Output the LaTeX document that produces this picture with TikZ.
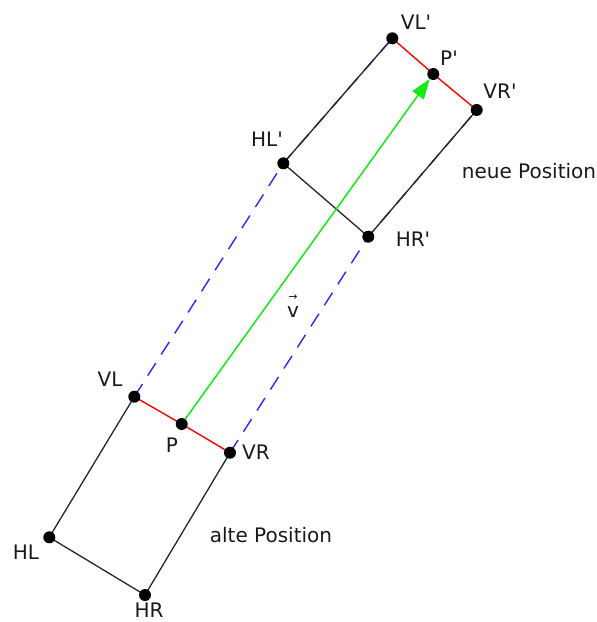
\documentclass[tikz,border=0pt]{standalone}
\usepackage{fontspec}
\setmainfont{DejaVu Sans}[Ligatures=TeXOff]
\usetikzlibrary{arrows.meta}
\begin{document}
\begin{tikzpicture}[x=1pt,y=-1pt,
  edge/.style={draw=black!85,line width=1.3pt},
  front/.style={draw=red,line width=1.4pt},
  path/.style={draw={rgb,255:red,40;green,40;blue,255},line width=1.4pt,dash pattern=on 15pt off 10pt},
  dot/.style={circle,fill=black,inner sep=0pt,minimum size=12pt},
  lab/.style={font=\fontsize{20}{24}\selectfont,text=black!90,inner sep=0pt},
  vec/.style={draw={rgb,255:red,20;green,235;blue,20},line width=1.5pt,-{Triangle[length=20pt,width=14pt]}}]
\useasboundingbox (0,0) rectangle (597,622);
% old position
\coordinate (VL) at (134.3,396.7);
\coordinate (P) at (181.7,424);
\coordinate (VR) at (230,452.7);
\coordinate (HL) at (49.3,537.3);
\coordinate (HR) at (145,595);
% new position
\coordinate (VLn) at (392.3,38.3);
\coordinate (Pn) at (433.3,74);
\coordinate (VRn) at (476.7,110);
\coordinate (HLn) at (283.3,163.3);
\coordinate (HRn) at (368.3,236.7);
% dashed paths
\draw[path] (VL) -- (HLn) -- (VLn);
\draw[path] (VR) -- (HRn) -- (VRn);
% rectangles
\draw[edge] (VL) -- (HL) -- (HR) -- (VR);
\draw[front] (VL) -- (P) -- (VR);
\draw[edge] (VLn) -- (HLn) -- (HRn) -- (VRn);
\draw[front] (VLn) -- (Pn) -- (VRn);
% dots
\foreach \c in {VL,P,VR,HL,HR,VLn,Pn,VRn,HLn,HRn} \node[dot] (d\c) at (\c) {};
% vector
\draw[vec] (dP) -- (dPn);
% labels
\node[lab] (lVL) at (110,379) {VL};
\node[lab] (lP) at (172,445) {P};
\node[lab] (lVR) at (256,452) {VR};
\node[lab] (lHL) at (26,552) {HL};
\node[lab] (lHR) at (149,610) {HR};
\node[lab] (lVLn) at (416,22) {VL'};
\node[lab] (lPn) at (449,58) {P'};
\node[lab] (lVRn) at (500,91) {VR'};
\node[lab] (lHLn) at (267,139) {HL'};
\node[lab] (lHRn) at (413,239) {HR'};
\node[lab] (lneu) at (529,171) {neue Position};
\node[lab] (lalt) at (271,535) {alte Position};
\node[lab] (lv) at (293,312) {v};
\node[lab,font=\fontsize{11}{12}\selectfont] (lvarrow) at (293,298) {→};
\end{tikzpicture}
\end{document}
